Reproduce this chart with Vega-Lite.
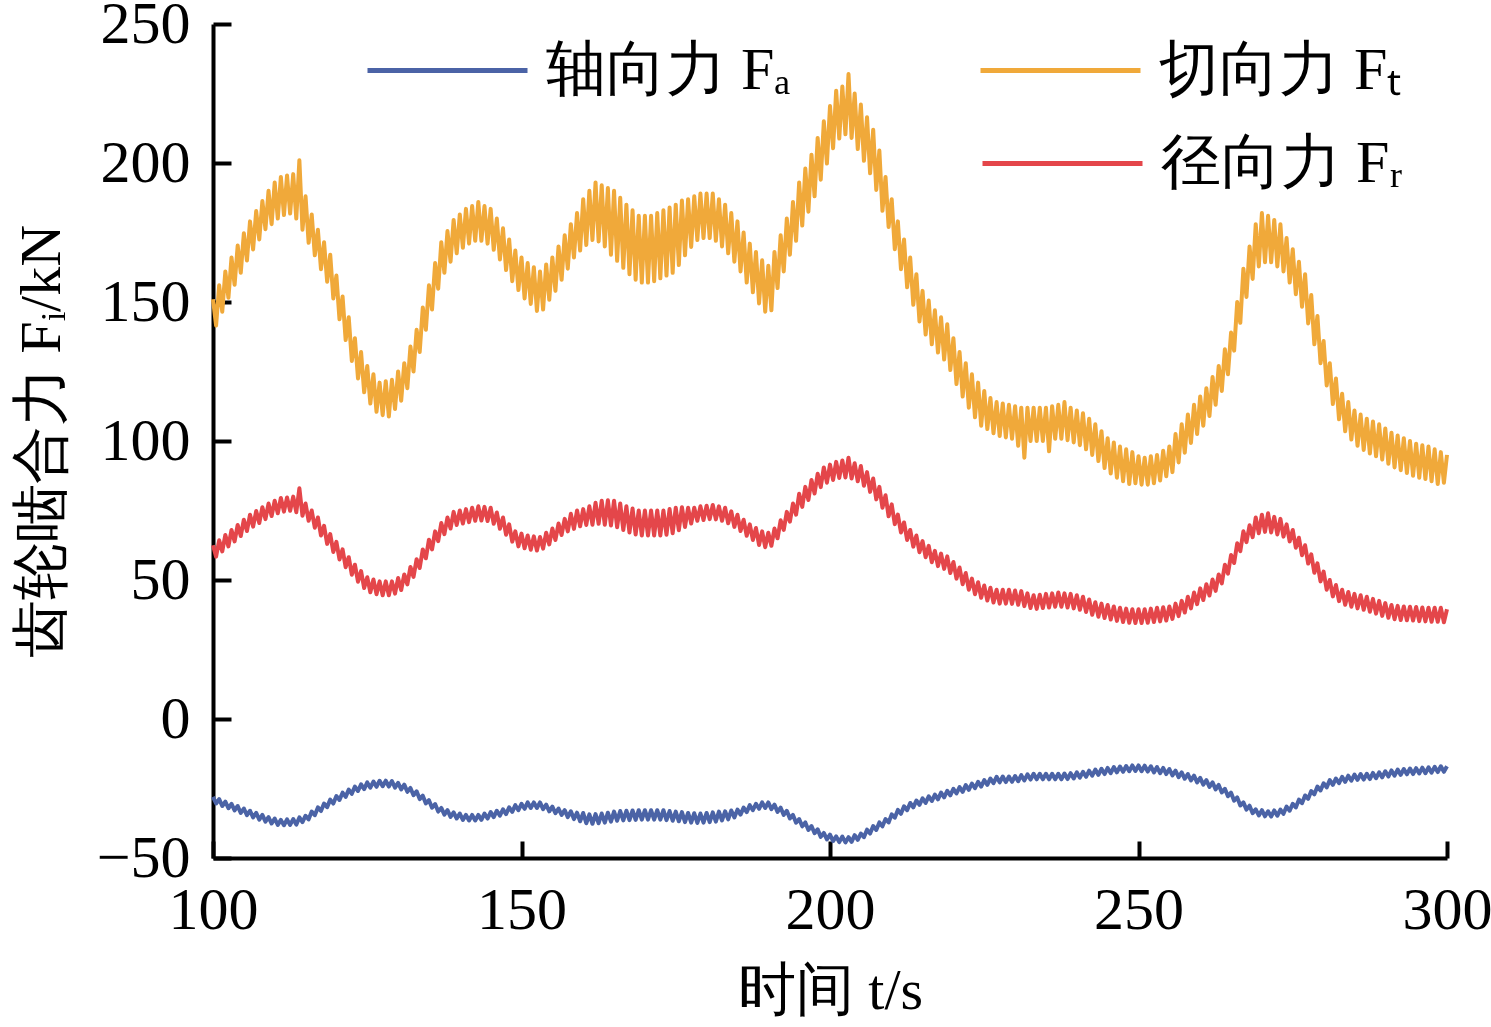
{
"$schema":"https://vega.github.io/schema/vega-lite/v6.json",
"width":1234,"height":834,
"autosize":{"type":"none"},
"padding":{"left":213,"top":24,"right":44,"bottom":169},
"config":{"view":{"stroke":null},"font":"Liberation Serif","axis":{"grid":false,"domainColor":"#000","tickColor":"#000","labelColor":"#000","titleColor":"#000"},
"legend":{"orient":"none","title":null,"padding":0,"symbolType":"stroke","symbolSize":25600,"symbolStrokeWidth":5,"labelFontSize":60,"labelFont":"Liberation Serif","labelColor":"#000","labelOffset":16,"labelLimit":500}},
"data":{"values":[
{"t":100,"a":-28,"f":151,"r":62.5},{"t":100.5,"a":-30.4,"f":141.5,"r":58.4},
{"t":101,"a":-28.8,"f":156,"r":64.3},{"t":101.5,"a":-31.3,"f":146.5,"r":60.3},
{"t":102,"a":-29.7,"f":161,"r":66.2},{"t":102.5,"a":-32.1,"f":151.5,"r":62.1},
{"t":103,"a":-30.5,"f":166,"r":68},{"t":103.5,"a":-32.9,"f":156.2,"r":63.9},
{"t":104,"a":-31.3,"f":170.3,"r":69.8},{"t":104.5,"a":-33.8,"f":160.5,"r":65.8},
{"t":105,"a":-32.2,"f":174.7,"r":71.7},{"t":105.5,"a":-34.6,"f":164.9,"r":67.6},
{"t":106,"a":-33,"f":179,"r":73.5},{"t":106.5,"a":-35.4,"f":168.9,"r":69.2},
{"t":107,"a":-33.8,"f":182.7,"r":74.8},{"t":107.5,"a":-36.2,"f":172.5,"r":70.5},
{"t":108,"a":-34.5,"f":186.3,"r":76.2},{"t":108.5,"a":-36.9,"f":176.2,"r":71.9},
{"t":109,"a":-35.3,"f":190,"r":77.5},{"t":109.5,"a":-37.6,"f":178,"r":73},
{"t":110,"a":-35.8,"f":193,"r":78.5},{"t":110.5,"a":-38.1,"f":180,"r":74},
{"t":111,"a":-36.3,"f":195,"r":79.5},{"t":111.5,"a":-38.2,"f":181.3,"r":74.6},
{"t":112,"a":-36.1,"f":195.5,"r":79.7},{"t":112.5,"a":-38.1,"f":181.8,"r":74.9},
{"t":113,"a":-36,"f":196,"r":80},{"t":113.5,"a":-38,"f":180,"r":74.4},
{"t":114,"a":-35.4,"f":201,"r":83},{"t":114.5,"a":-37.1,"f":176,"r":73.1},
{"t":115,"a":-34.8,"f":188,"r":77.5},{"t":115.5,"a":-36.1,"f":171.3,"r":71.3},
{"t":116,"a":-33.3,"f":181.5,"r":75},{"t":116.5,"a":-34.6,"f":166.8,"r":68.8},
{"t":117,"a":-31.8,"f":176,"r":72.5},{"t":117.5,"a":-33.1,"f":161.8,"r":66},
{"t":118,"a":-30.4,"f":171.5,"r":69.5},{"t":118.5,"a":-31.7,"f":157.3,"r":63},
{"t":119,"a":-29,"f":167,"r":66.5},{"t":119.5,"a":-30.4,"f":151.3,"r":60.1},
{"t":120,"a":-27.7,"f":159.5,"r":63.7},{"t":120.5,"a":-29.1,"f":143.8,"r":57.4},
{"t":121,"a":-26.5,"f":152,"r":61},{"t":121.5,"a":-28,"f":136.3,"r":54.6},
{"t":122,"a":-25.4,"f":144.5,"r":58.2},{"t":122.5,"a":-26.9,"f":128.8,"r":51.9},
{"t":123,"a":-24.3,"f":137,"r":55.5},{"t":123.5,"a":-25.9,"f":122.5,"r":49.4},
{"t":124,"a":-23.5,"f":132,"r":53.2},{"t":124.5,"a":-25.2,"f":117.5,"r":47.1},
{"t":125,"a":-22.8,"f":127,"r":51},{"t":125.5,"a":-24.7,"f":113.5,"r":45.6},
{"t":126,"a":-22.5,"f":124,"r":50.2},{"t":126.5,"a":-24.4,"f":110.5,"r":44.9},
{"t":127,"a":-22.2,"f":121,"r":49.5},{"t":127.5,"a":-24.2,"f":109.3,"r":44.5},
{"t":128,"a":-22.2,"f":121.5,"r":49.5},{"t":128.5,"a":-24.3,"f":108.8,"r":44.5},
{"t":129,"a":-22.3,"f":122,"r":49.5},{"t":129.5,"a":-24.7,"f":111.5,"r":45.1},
{"t":130,"a":-23,"f":125,"r":50.7},{"t":130.5,"a":-25.3,"f":114.5,"r":46.4},
{"t":131,"a":-23.6,"f":128,"r":52},{"t":131.5,"a":-26.2,"f":119,"r":48.4},
{"t":132,"a":-24.8,"f":134,"r":54.7},{"t":132.5,"a":-27.4,"f":125,"r":51.1},
{"t":133,"a":-26,"f":140,"r":57.5},{"t":133.5,"a":-28.8,"f":132,"r":54.3},
{"t":134,"a":-27.6,"f":148,"r":61},{"t":134.5,"a":-30.4,"f":140,"r":57.8},
{"t":135,"a":-29.2,"f":156,"r":64.5},{"t":135.5,"a":-31.9,"f":147.3,"r":61},
{"t":136,"a":-30.6,"f":164,"r":67.5},{"t":136.5,"a":-33.3,"f":154.8,"r":64},
{"t":137,"a":-32,"f":171.5,"r":70.5},{"t":137.5,"a":-34.4,"f":160.5,"r":66.5},
{"t":138,"a":-32.8,"f":175.5,"r":72.5},{"t":138.5,"a":-35.2,"f":164.5,"r":68.5},
{"t":139,"a":-33.6,"f":179.5,"r":74.5},{"t":139.5,"a":-35.8,"f":167.5,"r":69.8},
{"t":140,"a":-34,"f":181.5,"r":75},{"t":140.5,"a":-36.3,"f":169.5,"r":70.3},
{"t":141,"a":-34.5,"f":183.5,"r":75.5},{"t":141.5,"a":-36.5,"f":171,"r":70.8},
{"t":142,"a":-34.5,"f":184.5,"r":76},{"t":142.5,"a":-36.5,"f":172,"r":71.3},
{"t":143,"a":-34.5,"f":186,"r":76.5},{"t":143.5,"a":-36.3,"f":172,"r":71.4},
{"t":144,"a":-34,"f":184.5,"r":76.3},{"t":144.5,"a":-35.8,"f":171,"r":71.2},
{"t":145,"a":-33.5,"f":183.5,"r":76},{"t":145.5,"a":-35.3,"f":168.8,"r":70.2},
{"t":146,"a":-33,"f":180,"r":74.3},{"t":146.5,"a":-34.8,"f":165.3,"r":68.4},
{"t":147,"a":-32.5,"f":176.5,"r":72.5},{"t":147.5,"a":-34.2,"f":161.5,"r":66.3},
{"t":148,"a":-31.8,"f":172.5,"r":70},{"t":148.5,"a":-33.4,"f":157.5,"r":63.8},
{"t":149,"a":-31,"f":168.5,"r":67.5},{"t":149.5,"a":-32.8,"f":154.3,"r":62.1},
{"t":150,"a":-30.5,"f":166,"r":66.7},{"t":150.5,"a":-32.3,"f":151.3,"r":61.4},
{"t":151,"a":-30,"f":164,"r":66},{"t":151.5,"a":-32,"f":149.3,"r":60.9},
{"t":152,"a":-30,"f":162.5,"r":65.7},{"t":152.5,"a":-32,"f":146.8,"r":60.6},
{"t":153,"a":-30,"f":161,"r":65.5},{"t":153.5,"a":-32.4,"f":147.3,"r":61.3},
{"t":154,"a":-30.8,"f":163.5,"r":67},{"t":154.5,"a":-33.2,"f":150.8,"r":62.8},
{"t":155,"a":-31.5,"f":166,"r":68.5},{"t":155.5,"a":-33.9,"f":154,"r":64.4},
{"t":156,"a":-32.2,"f":170,"r":70.3},{"t":156.5,"a":-34.5,"f":158,"r":66.2},
{"t":157,"a":-32.8,"f":174,"r":72},{"t":157.5,"a":-35.3,"f":162,"r":67.5},
{"t":158,"a":-33.2,"f":178,"r":73.8},{"t":158.5,"a":-36,"f":166,"r":68.4},
{"t":159,"a":-33.7,"f":182,"r":75},{"t":159.5,"a":-36.8,"f":168.5,"r":69.3},
{"t":160,"a":-33.8,"f":187,"r":75.5},{"t":160.5,"a":-37.5,"f":170.5,"r":69.8},
{"t":161,"a":-34.3,"f":190,"r":76.5},{"t":161.5,"a":-37.7,"f":172.3,"r":69.9},
{"t":162,"a":-34.2,"f":193,"r":77.8},{"t":162.5,"a":-37.5,"f":171.8,"r":70.2},
{"t":163,"a":-34,"f":192,"r":78.5},{"t":163.5,"a":-37.3,"f":170,"r":69.9},
{"t":164,"a":-33.7,"f":191,"r":78.7},{"t":164.5,"a":-36.9,"f":167,"r":69.6},
{"t":165,"a":-33.3,"f":190,"r":78.5},{"t":165.5,"a":-36.6,"f":164.8,"r":69},
{"t":166,"a":-33.1,"f":187.5,"r":77.5},{"t":166.5,"a":-36.5,"f":162.3,"r":68},
{"t":167,"a":-33,"f":185,"r":76.5},{"t":167.5,"a":-36.4,"f":160,"r":67.1},
{"t":168,"a":-32.9,"f":183,"r":75.7},{"t":168.5,"a":-36.3,"f":158,"r":66.4},
{"t":169,"a":-32.8,"f":181,"r":75},{"t":169.5,"a":-36.2,"f":157,"r":66},
{"t":170,"a":-32.8,"f":181,"r":75},{"t":170.5,"a":-36.2,"f":157,"r":66},
{"t":171,"a":-32.8,"f":181,"r":75},{"t":171.5,"a":-36.2,"f":157.5,"r":66},
{"t":172,"a":-32.8,"f":182,"r":75},{"t":172.5,"a":-36.2,"f":158.5,"r":66},
{"t":173,"a":-32.8,"f":183,"r":75},{"t":173.5,"a":-36.4,"f":159.5,"r":66.3},
{"t":174,"a":-33.1,"f":184,"r":75.5},{"t":174.5,"a":-36.6,"f":160.5,"r":66.8},
{"t":175,"a":-33.3,"f":185,"r":76},{"t":175.5,"a":-36.8,"f":163.3,"r":67.9},
{"t":176,"a":-33.5,"f":186.5,"r":76.2},{"t":176.5,"a":-37.1,"f":166.8,"r":69.1},
{"t":177,"a":-33.8,"f":187,"r":76},{"t":177.5,"a":-37.3,"f":169.8,"r":70.3},
{"t":178,"a":-33.9,"f":188,"r":76},{"t":178.5,"a":-37.4,"f":172.3,"r":71.3},
{"t":179,"a":-34,"f":189,"r":76.5},{"t":179.5,"a":-37.3,"f":173,"r":71.6},
{"t":180,"a":-33.8,"f":189,"r":76.7},{"t":180.5,"a":-37.1,"f":173,"r":71.9},
{"t":181,"a":-33.6,"f":189,"r":77},{"t":181.5,"a":-36.9,"f":172,"r":71.8},
{"t":182,"a":-33.3,"f":187,"r":76.5},{"t":182.5,"a":-36.5,"f":170,"r":71.3},
{"t":183,"a":-33.2,"f":185,"r":76},{"t":183.5,"a":-36.1,"f":167.5,"r":70.4},
{"t":184,"a":-32.9,"f":182,"r":74.7},{"t":184.5,"a":-35.4,"f":164.5,"r":69.1},
{"t":185,"a":-32.6,"f":179,"r":73.5},{"t":185.5,"a":-34.4,"f":161,"r":67.6},
{"t":186,"a":-31.9,"f":175,"r":71.7},{"t":186.5,"a":-33.5,"f":157,"r":65.9},
{"t":187,"a":-31,"f":171,"r":70},{"t":187.5,"a":-32.8,"f":153.5,"r":64.4},
{"t":188,"a":-30.5,"f":168,"r":68.7},{"t":188.5,"a":-32.3,"f":149.5,"r":62.6},
{"t":189,"a":-30,"f":165,"r":67.5},{"t":189.5,"a":-32,"f":146.5,"r":61.8},
{"t":190,"a":-30,"f":163,"r":67},{"t":190.5,"a":-32.4,"f":147,"r":62.3},
{"t":191,"a":-30.8,"f":168,"r":68.5},{"t":191.5,"a":-33.4,"f":155,"r":65},
{"t":192,"a":-31.9,"f":174,"r":71.5},{"t":192.5,"a":-34.5,"f":161,"r":68},
{"t":193,"a":-33,"f":180,"r":74.5},{"t":193.5,"a":-35.8,"f":167,"r":71},
{"t":194,"a":-34.5,"f":186,"r":77.5},{"t":194.5,"a":-37.3,"f":172,"r":73.5},
{"t":195,"a":-36,"f":193,"r":81},{"t":195.5,"a":-38.6,"f":177.5,"r":76.3},
{"t":196,"a":-37.2,"f":198,"r":83.5},{"t":196.5,"a":-39.9,"f":182.5,"r":78.8},
{"t":197,"a":-38.5,"f":203,"r":86},{"t":197.5,"a":-41.1,"f":188,"r":81.1},
{"t":198,"a":-39.7,"f":209,"r":88.2},{"t":198.5,"a":-42.4,"f":194,"r":83.4},
{"t":199,"a":-41,"f":215,"r":90.5},{"t":199.5,"a":-43.3,"f":199.8,"r":85},
{"t":200,"a":-41.6,"f":220.5,"r":91.5},{"t":200.5,"a":-43.9,"f":205.3,"r":86},
{"t":201,"a":-42.2,"f":226,"r":92.5},{"t":201.5,"a":-44.3,"f":208.8,"r":86.7},
{"t":202,"a":-42.3,"f":227.5,"r":93},{"t":202.5,"a":-44.4,"f":210.3,"r":86.9},
{"t":203,"a":-42.5,"f":232,"r":94},{"t":203.5,"a":-44.2,"f":209,"r":86.5},
{"t":204,"a":-41.8,"f":225,"r":92},{"t":204.5,"a":-43.5,"f":205,"r":85.5},
{"t":205,"a":-41.2,"f":221,"r":91},{"t":205.5,"a":-42.5,"f":200.8,"r":83.9},
{"t":206,"a":-39.8,"f":216.5,"r":88.8},{"t":206.5,"a":-41.2,"f":196.3,"r":81.7},
{"t":207,"a":-38.5,"f":212,"r":86.5},{"t":207.5,"a":-39.9,"f":190.3,"r":79},
{"t":208,"a":-37.2,"f":204.5,"r":83.5},{"t":208.5,"a":-38.6,"f":182.8,"r":76},
{"t":209,"a":-36,"f":195,"r":80.5},{"t":209.5,"a":-37.2,"f":177,"r":72.9},
{"t":210,"a":-34.3,"f":187,"r":77.2},{"t":210.5,"a":-35.5,"f":169,"r":70.1},
{"t":211,"a":-32.7,"f":179,"r":73.5},{"t":211.5,"a":-34.1,"f":161.8,"r":67.1},
{"t":212,"a":-31.4,"f":172.5,"r":70.7},{"t":212.5,"a":-32.8,"f":155.3,"r":64.4},
{"t":213,"a":-30.2,"f":166,"r":68},{"t":213.5,"a":-31.8,"f":149,"r":62},
{"t":214,"a":-29.3,"f":160,"r":66},{"t":214.5,"a":-30.9,"f":143,"r":60},
{"t":215,"a":-28.5,"f":154,"r":64},{"t":215.5,"a":-30.2,"f":138.3,"r":58.2},
{"t":216,"a":-27.8,"f":150.5,"r":62.3},{"t":216.5,"a":-29.5,"f":134.8,"r":56.4},
{"t":217,"a":-27.2,"f":147,"r":60.5},{"t":217.5,"a":-28.9,"f":131.8,"r":55},
{"t":218,"a":-26.5,"f":144.5,"r":59.5},{"t":218.5,"a":-28.2,"f":129.3,"r":54},
{"t":219,"a":-25.8,"f":142,"r":58.5},{"t":219.5,"a":-27.5,"f":125.5,"r":52.5},
{"t":220,"a":-25.1,"f":137,"r":56.5},{"t":220.5,"a":-26.8,"f":120.5,"r":50.5},
{"t":221,"a":-24.5,"f":132,"r":54.5},{"t":221.5,"a":-26.2,"f":116,"r":48.5},
{"t":222,"a":-23.8,"f":128,"r":52.5},{"t":222.5,"a":-25.5,"f":112,"r":46.5},
{"t":223,"a":-23.2,"f":124,"r":50.5},{"t":223.5,"a":-24.9,"f":108.5,"r":44.9},
{"t":224,"a":-22.6,"f":121,"r":49.2},{"t":224.5,"a":-24.3,"f":105.5,"r":43.6},
{"t":225,"a":-22,"f":118,"r":48},{"t":225.5,"a":-23.7,"f":104.3,"r":42.6},
{"t":226,"a":-21.4,"f":115.5,"r":47.2},{"t":226.5,"a":-23.1,"f":102.8,"r":41.9},
{"t":227,"a":-20.8,"f":114,"r":46.5},{"t":227.5,"a":-22.8,"f":101.8,"r":41.5},
{"t":228,"a":-20.7,"f":113.5,"r":46.5},{"t":228.5,"a":-22.7,"f":101.3,"r":41.5},
{"t":229,"a":-20.7,"f":113,"r":46.5},{"t":229.5,"a":-22.6,"f":100.8,"r":41.4},
{"t":230,"a":-20.5,"f":112.5,"r":46.2},{"t":230.5,"a":-22.4,"f":98.3,"r":41.1},
{"t":231,"a":-20.2,"f":112,"r":46},{"t":231.5,"a":-22.1,"f":94,"r":40.6},
{"t":232,"a":-19.9,"f":112,"r":45.2},{"t":232.5,"a":-21.8,"f":100,"r":39.9},
{"t":233,"a":-19.7,"f":112,"r":44.5},{"t":233.5,"a":-21.7,"f":100,"r":39.6},
{"t":234,"a":-19.7,"f":112,"r":44.7},{"t":234.5,"a":-21.7,"f":100,"r":39.9},
{"t":235,"a":-19.7,"f":112,"r":45},{"t":235.5,"a":-21.7,"f":96.3,"r":40.1},
{"t":236,"a":-19.7,"f":112.5,"r":45.2},{"t":236.5,"a":-21.7,"f":100.8,"r":40.4},
{"t":237,"a":-19.7,"f":113,"r":45.5},{"t":237.5,"a":-21.7,"f":100.8,"r":40.4},
{"t":238,"a":-19.6,"f":114,"r":45.2},{"t":238.5,"a":-21.6,"f":100.3,"r":40.1},
{"t":239,"a":-19.5,"f":112,"r":45},{"t":239.5,"a":-21.4,"f":99.5,"r":39.8},
{"t":240,"a":-19.2,"f":111,"r":44.5},{"t":240.5,"a":-21.1,"f":98.5,"r":39.3},
{"t":241,"a":-19,"f":110,"r":44},{"t":241.5,"a":-20.8,"f":97,"r":38.5},
{"t":242,"a":-18.6,"f":108,"r":43},{"t":242.5,"a":-20.4,"f":95,"r":37.5},
{"t":243,"a":-18.2,"f":106,"r":42},{"t":243.5,"a":-20.1,"f":92.8,"r":36.8},
{"t":244,"a":-17.9,"f":103.5,"r":41.5},{"t":244.5,"a":-19.8,"f":90.3,"r":36.3},
{"t":245,"a":-17.6,"f":101,"r":41},{"t":245.5,"a":-19.5,"f":88.3,"r":35.8},
{"t":246,"a":-17.3,"f":99.5,"r":40.5},{"t":246.5,"a":-19.2,"f":86.8,"r":35.3},
{"t":247,"a":-17.1,"f":98,"r":40},{"t":247.5,"a":-19,"f":85.5,"r":34.9},
{"t":248,"a":-16.9,"f":97,"r":39.7},{"t":248.5,"a":-18.8,"f":84.5,"r":34.6},
{"t":249,"a":-16.7,"f":96,"r":39.5},{"t":249.5,"a":-18.7,"f":84.8,"r":34.5},
{"t":250,"a":-16.7,"f":94.5,"r":39.5},{"t":250.5,"a":-18.8,"f":84.3,"r":34.5},
{"t":251,"a":-16.8,"f":94,"r":39.5},{"t":251.5,"a":-18.9,"f":84.3,"r":34.6},
{"t":252,"a":-17,"f":94.5,"r":39.7},{"t":252.5,"a":-19.2,"f":84.8,"r":34.9},
{"t":253,"a":-17.3,"f":95,"r":40},{"t":253.5,"a":-19.5,"f":85.8,"r":35.1},
{"t":254,"a":-17.6,"f":96.5,"r":40.2},{"t":254.5,"a":-19.8,"f":87.3,"r":35.4},
{"t":255,"a":-18,"f":98,"r":40.5},{"t":255.5,"a":-20.3,"f":88.8,"r":36},
{"t":256,"a":-18.6,"f":102.5,"r":41.5},{"t":256.5,"a":-20.9,"f":92.3,"r":37},
{"t":257,"a":-19.2,"f":106,"r":42.5},{"t":257.5,"a":-21.5,"f":95.8,"r":38.3},
{"t":258,"a":-19.8,"f":109.5,"r":44},{"t":258.5,"a":-22.1,"f":99.3,"r":39.8},
{"t":259,"a":-20.4,"f":113,"r":45.5},{"t":259.5,"a":-22.8,"f":102.5,"r":41.3},
{"t":260,"a":-21.2,"f":116,"r":47},{"t":260.5,"a":-23.6,"f":105.5,"r":42.8},
{"t":261,"a":-22,"f":119,"r":48.5},{"t":261.5,"a":-24.4,"f":109,"r":44.4},
{"t":262,"a":-22.8,"f":123,"r":50.2},{"t":262.5,"a":-25.3,"f":113,"r":46.1},
{"t":263,"a":-23.7,"f":127,"r":52},{"t":263.5,"a":-26.4,"f":118,"r":48.8},
{"t":264,"a":-25.1,"f":133,"r":55.5},{"t":264.5,"a":-27.8,"f":124,"r":52.3},
{"t":265,"a":-26.5,"f":139,"r":59},{"t":265.5,"a":-29.4,"f":132.5,"r":56.1},
{"t":266,"a":-28.2,"f":150,"r":63.2},{"t":266.5,"a":-31.1,"f":142.5,"r":60.4},
{"t":267,"a":-30,"f":162,"r":67.5},{"t":267.5,"a":-32.6,"f":151.8,"r":63.6},
{"t":268,"a":-31.2,"f":170,"r":69.7},{"t":268.5,"a":-33.9,"f":158.3,"r":65.4},
{"t":269,"a":-32.5,"f":178,"r":72.5},{"t":269.5,"a":-34.7,"f":162.8,"r":66.8},
{"t":270,"a":-32.8,"f":182,"r":73.5},{"t":270.5,"a":-35,"f":164.3,"r":67.3},
{"t":271,"a":-33.2,"f":181,"r":74},{"t":271.5,"a":-35.1,"f":164.3,"r":67.1},
{"t":272,"a":-32.9,"f":179.5,"r":72.7},{"t":272.5,"a":-34.8,"f":162.8,"r":66.4},
{"t":273,"a":-32.6,"f":178,"r":72},{"t":273.5,"a":-34.1,"f":161,"r":65.6},
{"t":274,"a":-31.5,"f":173,"r":70},{"t":274.5,"a":-33,"f":157,"r":63.9},
{"t":275,"a":-30.5,"f":169,"r":68},{"t":275.5,"a":-31.8,"f":152.8,"r":61.6},
{"t":276,"a":-29,"f":164.5,"r":65.2},{"t":276.5,"a":-30.3,"f":148.3,"r":58.9},
{"t":277,"a":-27.5,"f":160,"r":62.5},{"t":277.5,"a":-28.7,"f":142.3,"r":55.9},
{"t":278,"a":-25.9,"f":152.5,"r":59.2},{"t":278.5,"a":-27.1,"f":134.8,"r":52.6},
{"t":279,"a":-24.3,"f":145,"r":56},{"t":279.5,"a":-25.7,"f":128,"r":49.5},
{"t":280,"a":-23.1,"f":136,"r":53},{"t":280.5,"a":-24.6,"f":120,"r":46.5},
{"t":281,"a":-22,"f":128,"r":50},{"t":281.5,"a":-23.7,"f":113.3,"r":44.1},
{"t":282,"a":-21.4,"f":122.5,"r":48.2},{"t":282.5,"a":-23.1,"f":107.8,"r":42.4},
{"t":283,"a":-20.8,"f":117,"r":46.5},{"t":283.5,"a":-22.6,"f":103.5,"r":41.1},
{"t":284,"a":-20.4,"f":114,"r":45.7},{"t":284.5,"a":-22.2,"f":100.5,"r":40.4},
{"t":285,"a":-20,"f":111,"r":45},{"t":285.5,"a":-21.9,"f":98.3,"r":39.8},
{"t":286,"a":-19.8,"f":109.5,"r":44.5},{"t":286.5,"a":-21.8,"f":96.8,"r":39.3},
{"t":287,"a":-19.7,"f":108,"r":44},{"t":287.5,"a":-21.6,"f":95.5,"r":38.6},
{"t":288,"a":-19.4,"f":107,"r":43.2},{"t":288.5,"a":-21.3,"f":94.5,"r":37.9},
{"t":289,"a":-19.2,"f":106,"r":42.5},{"t":289.5,"a":-21,"f":93.3,"r":37.1},
{"t":290,"a":-18.8,"f":104.5,"r":41.7},{"t":290.5,"a":-20.7,"f":91.8,"r":36.4},
{"t":291,"a":-18.5,"f":103,"r":41},{"t":291.5,"a":-20.4,"f":90.5,"r":35.9},
{"t":292,"a":-18.2,"f":102,"r":40.7},{"t":292.5,"a":-20.1,"f":89.5,"r":35.6},
{"t":293,"a":-18,"f":101,"r":40.5},{"t":293.5,"a":-19.9,"f":88.5,"r":35.5},
{"t":294,"a":-17.8,"f":100,"r":40.4},{"t":294.5,"a":-19.8,"f":87.5,"r":35.4},
{"t":295,"a":-17.7,"f":99,"r":40.3},{"t":295.5,"a":-19.6,"f":86.8,"r":35.2},
{"t":296,"a":-17.5,"f":98.5,"r":40.1},{"t":296.5,"a":-19.5,"f":86.3,"r":35.1},
{"t":297,"a":-17.4,"f":98,"r":40},{"t":297.5,"a":-19.3,"f":85.5,"r":35},
{"t":298,"a":-17.2,"f":97,"r":40},{"t":298.5,"a":-19.1,"f":84.5,"r":35},
{"t":299,"a":-17,"f":96,"r":40},{"t":299.5,"a":-19,"f":85,"r":34.8},
{"t":300,"a":-17,"f":95,"r":39.5}
]},
"transform":[{"fold":["a","f","r"],"as":["k","v"]}],
"encoding":{
"x":{"field":"t","type":"quantitative","scale":{"domain":[100,300],"nice":false,"zero":false},
"axis":{"values":[100,150,200,250,300],"format":"d","domainWidth":4,"tickWidth":4,"tickSize":-17,"labelFontSize":60,"labelPadding":40,"labelFlush":false,"title":"时间 t/s","titleFontSize":58,"titleFontWeight":"normal","titlePadding":22}},
"y":{"field":"v","type":"quantitative","scale":{"domain":[-50,250],"nice":false,"zero":false},
"axis":{"values":[-50,0,50,100,150,200,250],"format":"d","domainWidth":4,"tickWidth":4,"tickSize":-18,"labelFontSize":60,"labelPadding":41,"labelFlush":false,"title":"齿轮啮合力 Fᵢ/kN","titleFontSize":58,"titleFontWeight":"normal","titlePadding":25}}
},
"layer":[
{"transform":[{"filter":"datum.k == 'a'"}],
"mark":{"type":"line","strokeWidth":4,"strokeJoin":"round"},
"encoding":{"color":{"field":"k","type":"nominal","scale":{"domain":["a"],"range":["#4b63a6"]},
"legend":{"legendX":152,"legendY":-36,"labelExpr":"'轴向力 Fₐ'"}}}},
{"transform":[{"filter":"datum.k == 'f'"}],
"mark":{"type":"line","strokeWidth":4,"strokeJoin":"round"},
"encoding":{"color":{"field":"k","type":"nominal","scale":{"domain":["f"],"range":["#f0a93a"]},
"legend":{"legendX":765,"legendY":-36,"labelExpr":"'切向力 Fₜ'"}}}},
{"transform":[{"filter":"datum.k == 'r'"}],
"mark":{"type":"line","strokeWidth":4,"strokeJoin":"round"},
"encoding":{"color":{"field":"k","type":"nominal","scale":{"domain":["r"],"range":["#e4464a"]},
"legend":{"legendX":767,"legendY":57,"labelExpr":"'径向力 Fᵣ'"}}}}
],
"resolve":{"scale":{"color":"independent"}}
}
